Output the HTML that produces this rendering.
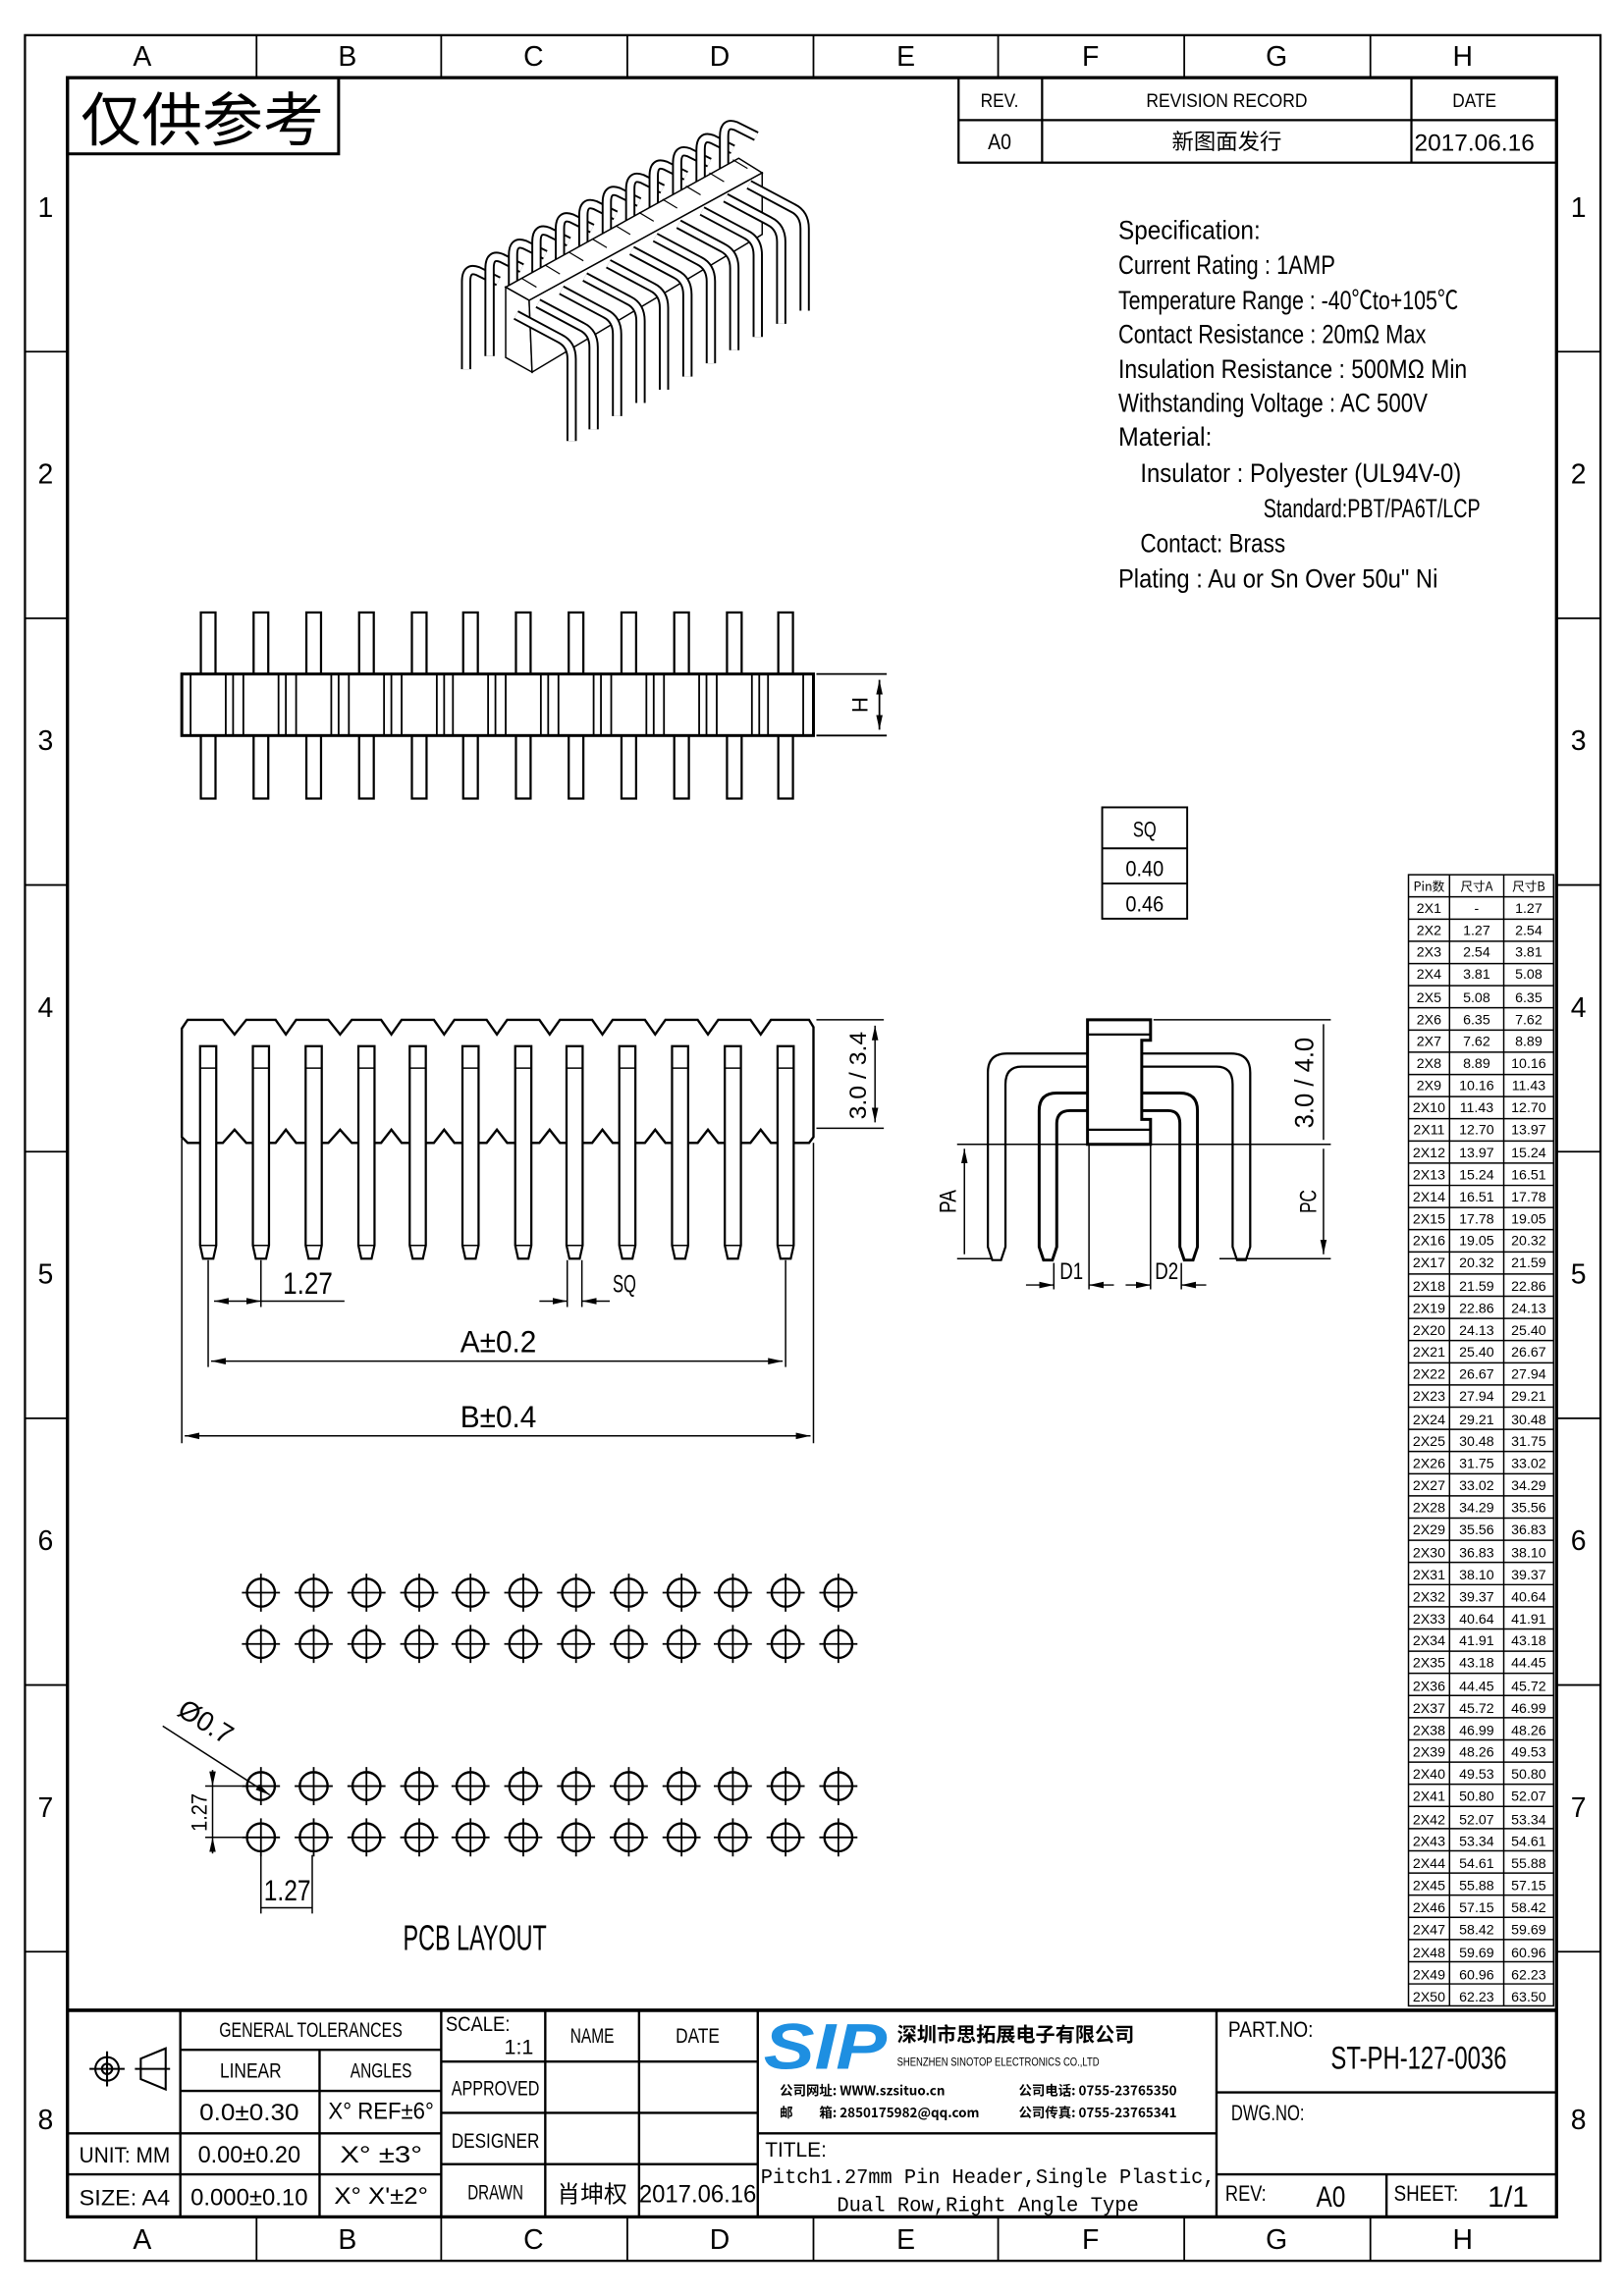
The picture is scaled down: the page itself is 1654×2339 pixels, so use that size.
<!DOCTYPE html>
<html><head><meta charset="utf-8"><style>
html,body{margin:0;padding:0;background:#fff}
svg{display:block}
text{font-family:"Liberation Sans Narrow","Liberation Sans","Noto Sans CJK SC",sans-serif;fill:#000}
.cj{font-family:"Noto Sans CJK SC","WenQuanYi Zen Hei",sans-serif}
.t{font-size:9.5px;text-anchor:middle}
</style></head><body>
<svg width="1654" height="2339" viewBox="0 0 1108 1567" xmlns="http://www.w3.org/2000/svg">
<defs>
<marker id="ar" viewBox="0 0 10 6" refX="10" refY="3" markerWidth="10" markerHeight="6" orient="auto-start-reverse" markerUnits="userSpaceOnUse"><path d="M0,0.8 L10,3 L0,5.2z" fill="#000"/></marker>
<g id="pcb"><circle cx="0" cy="0" r="9.5" fill="none" stroke="#000" stroke-width="1.6"/><path d="M-13,0H13M0,-13V13" stroke="#000" stroke-width="1.2"/></g>
<g id="fpin"><path d="M-5.5,0 V136 L-3.5,145 H3.5 L5.5,136 V0 Z" fill="#fff" stroke="#000" stroke-width="1.5"/><path d="M-5.5,15H5.5M-5.5,136H5.5" stroke="#000" stroke-width="1"/></g>
<g id="tpin"><rect x="-5" y="0" width="10" height="127" fill="#fff" stroke="#000" stroke-width="1.5"/></g>
<g id="rpin" fill="none" stroke-linejoin="round"><path d="M0,0 L30,16 Q38,20 38,30 V86" stroke="#000" stroke-width="7"/><path d="M0,0 L30,16 Q38,20 38,30 V86" stroke="#fff" stroke-width="4.4"/></g>
<g id="lpin" fill="none"><path d="M0,0 L-14,-7 Q-22,-10 -22,0 V60" stroke="#000" stroke-width="7"/><path d="M0,0 L-14,-7 Q-22,-10 -22,0 V60" stroke="#fff" stroke-width="4.4"/></g>
</defs>

<!-- frames -->
<rect x="17" y="24" width="1075" height="1519" fill="none" stroke="#000" stroke-width="1.5"/>
<rect x="46" y="53" width="1016" height="1460" fill="none" stroke="#000" stroke-width="2.2"/>
<g stroke="#000" stroke-width="1.2">
<path d="M175,24V53M301,24V53M428,24V53M555,24V53M681,24V53M808,24V53M935,24V53"/>
<path d="M175,1513V1543M301,1513V1543M428,1513V1543M555,1513V1543M681,1513V1543M808,1513V1543M935,1513V1543"/>
<path d="M17,240H46M17,422H46M17,604H46M17,786H46M17,968H46M17,1150H46M17,1332H46"/>
<path d="M1062,240H1092M1062,422H1092M1062,604H1092M1062,786H1092M1062,968H1092M1062,1150H1092M1062,1332H1092"/>
</g>
<g font-size="19" text-anchor="middle">
<text x="97" y="45">A</text><text x="237" y="45">B</text><text x="364" y="45">C</text><text x="491" y="45">D</text><text x="618" y="45">E</text><text x="744" y="45">F</text><text x="871" y="45">G</text><text x="998" y="45">H</text>
<text x="97" y="1535">A</text><text x="237" y="1535">B</text><text x="364" y="1535">C</text><text x="491" y="1535">D</text><text x="618" y="1535">E</text><text x="744" y="1535">F</text><text x="871" y="1535">G</text><text x="998" y="1535">H</text>
<text x="31" y="148">1</text><text x="31" y="330">2</text><text x="31" y="512">3</text><text x="31" y="694">4</text><text x="31" y="876">5</text><text x="31" y="1058">6</text><text x="31" y="1240">7</text><text x="31" y="1453">8</text>
<text x="1077" y="148">1</text><text x="1077" y="330">2</text><text x="1077" y="512">3</text><text x="1077" y="694">4</text><text x="1077" y="876">5</text><text x="1077" y="1058">6</text><text x="1077" y="1240">7</text><text x="1077" y="1453">8</text>
</g>

<!-- stamp -->
<rect x="46" y="53" width="185" height="52" fill="none" stroke="#000" stroke-width="2"/>
<text x="138" y="96" class="cj" font-size="40" text-anchor="middle" textLength="166" lengthAdjust="spacingAndGlyphs">仅供参考</text>

<!-- revision -->
<g fill="none" stroke="#000" stroke-width="1.5"><rect x="654" y="53" width="408" height="58"/><path d="M654,82H1062M711,53V111M963,53V111"/></g>
<g font-size="13" text-anchor="middle">
<text x="682" y="73" textLength="26" lengthAdjust="spacingAndGlyphs">REV.</text><text x="837" y="73" textLength="110" lengthAdjust="spacingAndGlyphs">REVISION RECORD</text><text x="1006" y="73" textLength="30" lengthAdjust="spacingAndGlyphs">DATE</text>
<text x="682" y="102" font-size="15" textLength="16" lengthAdjust="spacingAndGlyphs">A0</text><text x="837" y="102" class="cj" font-size="15">新图面发行</text><text x="1006" y="103" font-size="16" textLength="82" lengthAdjust="spacingAndGlyphs">2017.06.16</text>
</g>

<!-- spec -->
<g font-size="18">
<text x="763" y="163" textLength="97" lengthAdjust="spacingAndGlyphs">Specification:</text>
<text x="763" y="187" textLength="148" lengthAdjust="spacingAndGlyphs">Current Rating : 1AMP</text>
<text x="763" y="211" textLength="232" lengthAdjust="spacingAndGlyphs">Temperature Range : -40℃to+105℃</text>
<text x="763" y="234" textLength="210" lengthAdjust="spacingAndGlyphs">Contact Resistance : 20mΩ Max</text>
<text x="763" y="258" textLength="238" lengthAdjust="spacingAndGlyphs">Insulation Resistance : 500MΩ Min</text>
<text x="763" y="281" textLength="211" lengthAdjust="spacingAndGlyphs">Withstanding Voltage : AC 500V</text>
<text x="763" y="304" textLength="64" lengthAdjust="spacingAndGlyphs">Material:</text>
<text x="778" y="329" textLength="219" lengthAdjust="spacingAndGlyphs">Insulator : Polyester (UL94V-0)</text>
<text x="862" y="353" textLength="148" lengthAdjust="spacingAndGlyphs">Standard:PBT/PA6T/LCP</text>
<text x="778" y="377" textLength="99" lengthAdjust="spacingAndGlyphs">Contact: Brass</text>
<text x="763" y="401" textLength="218" lengthAdjust="spacingAndGlyphs">Plating : Au or Sn Over 50u" Ni</text>
</g>

<!-- 3D view -->
<g>
<use href="#lpin" x="340" y="192"/><use href="#lpin" x="356" y="183"/>
<use href="#lpin" x="372" y="174"/><use href="#lpin" x="388" y="165"/><use href="#lpin" x="404" y="156"/><use href="#lpin" x="420" y="147"/><use href="#lpin" x="436" y="138"/><use href="#lpin" x="452" y="129"/><use href="#lpin" x="468" y="120"/><use href="#lpin" x="484" y="111"/><use href="#lpin" x="500" y="102"/><use href="#lpin" x="516" y="93"/>
<polygon points="345,196 361,205 520,118 504,108" fill="#fff" stroke="#000" stroke-width="1"/>
<polygon points="345,196 361,205 363,254 345,244" fill="#fff" stroke="#000" stroke-width="1"/>
<polygon points="361,205 520,118 520,160 363,254" fill="#fff" stroke="#000" stroke-width="1"/>
<g stroke="#000" stroke-width="0.8" fill="none"><path d="M356,190 l10,6 M372,181 l10,6 M388,172 l10,6 M404,163 l10,6 M420,154 l10,6 M436,145 l10,6 M452,136 l10,6 M468,127 l10,6 M484,118 l10,6 M500,109 l10,6"/></g>
<use href="#rpin" x="352" y="215"/><use href="#rpin" x="367" y="207"/><use href="#rpin" x="383" y="198"/><use href="#rpin" x="399" y="189"/><use href="#rpin" x="415" y="180"/><use href="#rpin" x="431" y="171"/><use href="#rpin" x="447" y="162"/><use href="#rpin" x="463" y="153"/><use href="#rpin" x="479" y="144"/><use href="#rpin" x="495" y="135"/><use href="#rpin" x="511" y="126"/>
</g>

<!-- top view -->
<g>
<use href="#tpin" x="142" y="418"/><use href="#tpin" x="178" y="418"/><use href="#tpin" x="214" y="418"/><use href="#tpin" x="250" y="418"/><use href="#tpin" x="286" y="418"/><use href="#tpin" x="321" y="418"/><use href="#tpin" x="357" y="418"/><use href="#tpin" x="393" y="418"/><use href="#tpin" x="429" y="418"/><use href="#tpin" x="465" y="418"/><use href="#tpin" x="501" y="418"/><use href="#tpin" x="536" y="418"/>
<rect x="124" y="460" width="431" height="42" fill="#fff" stroke="#000" stroke-width="2"/>
<g stroke="#000" stroke-width="1.2">
<path d="M130,460V502M154,460V502M159,460V502M166,460V502M190,460V502M195,460V502M202,460V502M226,460V502M231,460V502M238,460V502M262,460V502M267,460V502M274,460V502M298,460V502M303,460V502M309,460V502M333,460V502M338,460V502M345,460V502M369,460V502M374,460V502M381,460V502M405,460V502M410,460V502M417,460V502M441,460V502M446,460V502M453,460V502M477,460V502M482,460V502M489,460V502M513,460V502M518,460V502M524,460V502M548,460V502"/>
<path d="M557,460H605M557,502H605"/>
<path d="M600,464V498" marker-start="url(#ar)" marker-end="url(#ar)"/>
</g>
<text x="592" y="481" font-size="15" text-anchor="middle" transform="rotate(-90 592 481)">H</text>
</g>

<!-- SQ table -->
<g fill="none" stroke="#000" stroke-width="1.3"><rect x="752" y="551" width="58" height="76"/><path d="M752,579H810M752,603H810"/></g>
<g font-size="15" text-anchor="middle"><text x="781" y="571" textLength="16" lengthAdjust="spacingAndGlyphs">SQ</text><text x="781" y="598" textLength="26" lengthAdjust="spacingAndGlyphs">0.40</text><text x="781" y="622" textLength="26" lengthAdjust="spacingAndGlyphs">0.46</text></g>

<!-- pin table -->
<g fill="none" stroke="#000" stroke-width="1"><rect x="961" y="597" width="99" height="772"/><path d="M989,597V1369M1026,597V1369"/>
<path d="M961,612.1H1060M961,627.3H1060M961,642.4H1060M961,657.6H1060M961,672.7H1060M961,687.8H1060M961,703H1060M961,718.1H1060M961,733.3H1060M961,748.4H1060M961,763.5H1060M961,778.7H1060M961,793.8H1060M961,809H1060M961,824.1H1060M961,839.2H1060M961,854.4H1060M961,869.5H1060M961,884.7H1060M961,899.8H1060M961,914.9H1060M961,930.1H1060M961,945.2H1060M961,960.4H1060M961,975.5H1060M961,990.6H1060M961,1005.8H1060M961,1020.9H1060M961,1036.1H1060M961,1051.2H1060M961,1066.3H1060M961,1081.5H1060M961,1096.6H1060M961,1111.8H1060M961,1126.9H1060M961,1142H1060M961,1157.2H1060M961,1172.3H1060M961,1187.5H1060M961,1202.6H1060M961,1217.7H1060M961,1232.9H1060M961,1248H1060M961,1263.2H1060M961,1278.3H1060M961,1293.4H1060M961,1308.6H1060M961,1323.7H1060M961,1338.9H1060M961,1354H1060"/></g>
<g class="t">
<text x="975" y="608" class="cj" font-size="8.5">Pin数</text><text x="1007.5" y="608" class="cj" font-size="8.5">尺寸A</text><text x="1043" y="608" class="cj" font-size="8.5">尺寸B</text>
<text x="975" y="623">2X1</text><text x="1007.5" y="623">-</text><text x="1043" y="623">1.27</text>
<text x="975" y="638">2X2</text><text x="1007.5" y="638">1.27</text><text x="1043" y="638">2.54</text>
<text x="975" y="653">2X3</text><text x="1007.5" y="653">2.54</text><text x="1043" y="653">3.81</text>
<text x="975" y="668">2X4</text><text x="1007.5" y="668">3.81</text><text x="1043" y="668">5.08</text>
<text x="975" y="684">2X5</text><text x="1007.5" y="684">5.08</text><text x="1043" y="684">6.35</text>
<text x="975" y="699">2X6</text><text x="1007.5" y="699">6.35</text><text x="1043" y="699">7.62</text>
<text x="975" y="714">2X7</text><text x="1007.5" y="714">7.62</text><text x="1043" y="714">8.89</text>
<text x="975" y="729">2X8</text><text x="1007.5" y="729">8.89</text><text x="1043" y="729">10.16</text>
<text x="975" y="744">2X9</text><text x="1007.5" y="744">10.16</text><text x="1043" y="744">11.43</text>
<text x="975" y="759">2X10</text><text x="1007.5" y="759">11.43</text><text x="1043" y="759">12.70</text>
<text x="975" y="774">2X11</text><text x="1007.5" y="774">12.70</text><text x="1043" y="774">13.97</text>
<text x="975" y="790">2X12</text><text x="1007.5" y="790">13.97</text><text x="1043" y="790">15.24</text>
<text x="975" y="805">2X13</text><text x="1007.5" y="805">15.24</text><text x="1043" y="805">16.51</text>
<text x="975" y="820">2X14</text><text x="1007.5" y="820">16.51</text><text x="1043" y="820">17.78</text>
<text x="975" y="835">2X15</text><text x="1007.5" y="835">17.78</text><text x="1043" y="835">19.05</text>
<text x="975" y="850">2X16</text><text x="1007.5" y="850">19.05</text><text x="1043" y="850">20.32</text>
<text x="975" y="865">2X17</text><text x="1007.5" y="865">20.32</text><text x="1043" y="865">21.59</text>
<text x="975" y="881">2X18</text><text x="1007.5" y="881">21.59</text><text x="1043" y="881">22.86</text>
<text x="975" y="896">2X19</text><text x="1007.5" y="896">22.86</text><text x="1043" y="896">24.13</text>
<text x="975" y="911">2X20</text><text x="1007.5" y="911">24.13</text><text x="1043" y="911">25.40</text>
<text x="975" y="926">2X21</text><text x="1007.5" y="926">25.40</text><text x="1043" y="926">26.67</text>
<text x="975" y="941">2X22</text><text x="1007.5" y="941">26.67</text><text x="1043" y="941">27.94</text>
<text x="975" y="956">2X23</text><text x="1007.5" y="956">27.94</text><text x="1043" y="956">29.21</text>
<text x="975" y="972">2X24</text><text x="1007.5" y="972">29.21</text><text x="1043" y="972">30.48</text>
<text x="975" y="987">2X25</text><text x="1007.5" y="987">30.48</text><text x="1043" y="987">31.75</text>
<text x="975" y="1002">2X26</text><text x="1007.5" y="1002">31.75</text><text x="1043" y="1002">33.02</text>
<text x="975" y="1017">2X27</text><text x="1007.5" y="1017">33.02</text><text x="1043" y="1017">34.29</text>
<text x="975" y="1032">2X28</text><text x="1007.5" y="1032">34.29</text><text x="1043" y="1032">35.56</text>
<text x="975" y="1047">2X29</text><text x="1007.5" y="1047">35.56</text><text x="1043" y="1047">36.83</text>
<text x="975" y="1063">2X30</text><text x="1007.5" y="1063">36.83</text><text x="1043" y="1063">38.10</text>
<text x="975" y="1078">2X31</text><text x="1007.5" y="1078">38.10</text><text x="1043" y="1078">39.37</text>
<text x="975" y="1093">2X32</text><text x="1007.5" y="1093">39.37</text><text x="1043" y="1093">40.64</text>
<text x="975" y="1108">2X33</text><text x="1007.5" y="1108">40.64</text><text x="1043" y="1108">41.91</text>
<text x="975" y="1123">2X34</text><text x="1007.5" y="1123">41.91</text><text x="1043" y="1123">43.18</text>
<text x="975" y="1138">2X35</text><text x="1007.5" y="1138">43.18</text><text x="1043" y="1138">44.45</text>
<text x="975" y="1154">2X36</text><text x="1007.5" y="1154">44.45</text><text x="1043" y="1154">45.72</text>
<text x="975" y="1169">2X37</text><text x="1007.5" y="1169">45.72</text><text x="1043" y="1169">46.99</text>
<text x="975" y="1184">2X38</text><text x="1007.5" y="1184">46.99</text><text x="1043" y="1184">48.26</text>
<text x="975" y="1199">2X39</text><text x="1007.5" y="1199">48.26</text><text x="1043" y="1199">49.53</text>
<text x="975" y="1214">2X40</text><text x="1007.5" y="1214">49.53</text><text x="1043" y="1214">50.80</text>
<text x="975" y="1229">2X41</text><text x="1007.5" y="1229">50.80</text><text x="1043" y="1229">52.07</text>
<text x="975" y="1245">2X42</text><text x="1007.5" y="1245">52.07</text><text x="1043" y="1245">53.34</text>
<text x="975" y="1260">2X43</text><text x="1007.5" y="1260">53.34</text><text x="1043" y="1260">54.61</text>
<text x="975" y="1275">2X44</text><text x="1007.5" y="1275">54.61</text><text x="1043" y="1275">55.88</text>
<text x="975" y="1290">2X45</text><text x="1007.5" y="1290">55.88</text><text x="1043" y="1290">57.15</text>
<text x="975" y="1305">2X46</text><text x="1007.5" y="1305">57.15</text><text x="1043" y="1305">58.42</text>
<text x="975" y="1320">2X47</text><text x="1007.5" y="1320">58.42</text><text x="1043" y="1320">59.69</text>
<text x="975" y="1336">2X48</text><text x="1007.5" y="1336">59.69</text><text x="1043" y="1336">60.96</text>
<text x="975" y="1351">2X49</text><text x="1007.5" y="1351">60.96</text><text x="1043" y="1351">62.23</text>
<text x="975" y="1366">2X50</text><text x="1007.5" y="1366">62.23</text><text x="1043" y="1366">63.50</text>
</g>

<!-- front view -->
<g>
<path d="M124,702 L128,696 H152 L160,706 L168,696 H188 L195,706 L202,696 H224 L232,706 L240,696 H260 L267,706 L274,696 H296 L303,706 L310,696 H332 L339,706 L346,696 H368 L375,706 L382,696 H404 L411,706 L418,696 H440 L447,706 L454,696 H476 L483,706 L490,696 H512 L519,706 L526,696 H552 L555,701 V776 L552,780 H526 L519,771 L512,780 H490 L483,771 L476,780 H454 L447,771 L440,780 H418 L411,771 L404,780 H382 L375,771 L368,780 H346 L339,771 L332,780 H310 L303,771 L296,780 H274 L267,771 L260,780 H240 L232,771 L224,780 H202 L195,771 L188,780 H168 L160,771 L152,780 H128 L124,776 Z" fill="none" stroke="#000" stroke-width="1.6"/>
<use href="#fpin" x="142" y="714"/><use href="#fpin" x="178" y="714"/><use href="#fpin" x="214" y="714"/><use href="#fpin" x="250" y="714"/><use href="#fpin" x="285" y="714"/><use href="#fpin" x="321" y="714"/><use href="#fpin" x="357" y="714"/><use href="#fpin" x="392" y="714"/><use href="#fpin" x="428" y="714"/><use href="#fpin" x="464" y="714"/><use href="#fpin" x="500" y="714"/><use href="#fpin" x="536" y="714"/>
<g stroke="#000" stroke-width="1" fill="none">
<path d="M124,776V985M555,780V985M142,860V933M178,860V892M536,860V933M387,860V892M397,860V892"/>
<path d="M557,696H603M557,770H603"/>
<path d="M146,888H178" marker-start="url(#ar)" marker-end="url(#ar)"/><path d="M178,888H235"/>
<path d="M368,888H387" marker-end="url(#ar)"/><path d="M397,888H416" marker-start="url(#ar)"/>
<path d="M144,929H534" marker-start="url(#ar)" marker-end="url(#ar)"/>
<path d="M126,980H553" marker-start="url(#ar)" marker-end="url(#ar)"/>
</g>
<path d="M597,700V766" stroke="#000" marker-start="url(#ar)" marker-end="url(#ar)"/>
<g font-size="21" text-anchor="middle">
<text x="210" y="883" textLength="34" lengthAdjust="spacingAndGlyphs">1.27</text><text x="426" y="882" font-size="17" textLength="16" lengthAdjust="spacingAndGlyphs">SQ</text>
<text x="340" y="923" textLength="52" lengthAdjust="spacingAndGlyphs">A±0.2</text><text x="340" y="974" textLength="52" lengthAdjust="spacingAndGlyphs">B±0.4</text>
<text x="591" y="734" font-size="16" transform="rotate(-90 591 734)" textLength="60" lengthAdjust="spacingAndGlyphs">3.0 / 3.4</text>
</g>
</g>

<!-- side view -->
<g fill="none" stroke="#000">
<path d="M743,719 H687 Q674,719 674,732 V851 L677,860 H683 L686,851 V740 Q686,728 697,728 H743" fill="#fff" stroke-width="1.5"/>
<path d="M743,746 H721 Q709,746 709,758 V851 L712,860 H718 L721,851 V767 Q721,758 730,758 H743" fill="#fff" stroke-width="2"/>
<path d="M779,719 H840 Q853,719 853,732 V851 L850,860 H844 L841,851 V740 Q841,728 830,728 H779" fill="#fff" stroke-width="1.5"/>
<path d="M779,746 H805 Q817,746 817,758 V851 L814,860 H808 L805,851 V767 Q805,758 797,758 H779" fill="#fff" stroke-width="2"/>
<path d="M742,696 H785 V710 H779 V764 H785 V781 H742 Z" fill="#fff" stroke-width="2"/>
<path d="M742,706H785M742,771H785" stroke-width="1.5"/>
<path d="M653,781H908M653,859H677M832,859H908M787,696H908" stroke-width="1"/>
<path d="M719,862V880M743,781V880M785,781V880M806,862V880" stroke-width="1"/>
<path d="M658,784V856M903,699V778M903,784V856" stroke-width="1" marker-start="url(#ar)" marker-end="url(#ar)"/>
<path d="M700,877H719" stroke-width="1" marker-end="url(#ar)"/><path d="M743,877H760" stroke-width="1" marker-start="url(#ar)"/>
<path d="M768,877H785" stroke-width="1" marker-end="url(#ar)"/><path d="M806,877H823" stroke-width="1" marker-start="url(#ar)"/>
</g>
<g font-size="16" text-anchor="middle">
<text x="652" y="820" transform="rotate(-90 652 820)" textLength="16" lengthAdjust="spacingAndGlyphs">PA</text>
<text x="898" y="820" transform="rotate(-90 898 820)" textLength="16" lengthAdjust="spacingAndGlyphs">PC</text>
<text x="896" y="739" font-size="18" transform="rotate(-90 896 739)" textLength="62" lengthAdjust="spacingAndGlyphs">3.0 / 4.0</text>
<text x="731" y="873" textLength="16" lengthAdjust="spacingAndGlyphs">D1</text><text x="796" y="873" textLength="16" lengthAdjust="spacingAndGlyphs">D2</text>
</g>

<!-- PCB layout -->
<g>
<use href="#pcb" x="178" y="1087"/><use href="#pcb" x="214" y="1087"/><use href="#pcb" x="250" y="1087"/><use href="#pcb" x="286" y="1087"/><use href="#pcb" x="321" y="1087"/><use href="#pcb" x="357" y="1087"/><use href="#pcb" x="393" y="1087"/><use href="#pcb" x="429" y="1087"/><use href="#pcb" x="465" y="1087"/><use href="#pcb" x="500" y="1087"/><use href="#pcb" x="536" y="1087"/><use href="#pcb" x="572" y="1087"/>
<use href="#pcb" x="178" y="1122"/><use href="#pcb" x="214" y="1122"/><use href="#pcb" x="250" y="1122"/><use href="#pcb" x="286" y="1122"/><use href="#pcb" x="321" y="1122"/><use href="#pcb" x="357" y="1122"/><use href="#pcb" x="393" y="1122"/><use href="#pcb" x="429" y="1122"/><use href="#pcb" x="465" y="1122"/><use href="#pcb" x="500" y="1122"/><use href="#pcb" x="536" y="1122"/><use href="#pcb" x="572" y="1122"/>
<use href="#pcb" x="178" y="1219"/><use href="#pcb" x="214" y="1219"/><use href="#pcb" x="250" y="1219"/><use href="#pcb" x="286" y="1219"/><use href="#pcb" x="321" y="1219"/><use href="#pcb" x="357" y="1219"/><use href="#pcb" x="393" y="1219"/><use href="#pcb" x="429" y="1219"/><use href="#pcb" x="465" y="1219"/><use href="#pcb" x="500" y="1219"/><use href="#pcb" x="536" y="1219"/><use href="#pcb" x="572" y="1219"/>
<use href="#pcb" x="178" y="1254"/><use href="#pcb" x="214" y="1254"/><use href="#pcb" x="250" y="1254"/><use href="#pcb" x="286" y="1254"/><use href="#pcb" x="321" y="1254"/><use href="#pcb" x="357" y="1254"/><use href="#pcb" x="393" y="1254"/><use href="#pcb" x="429" y="1254"/><use href="#pcb" x="465" y="1254"/><use href="#pcb" x="500" y="1254"/><use href="#pcb" x="536" y="1254"/><use href="#pcb" x="572" y="1254"/>
<g stroke="#000" stroke-width="1" fill="none">
<path d="M111,1178 L184,1225" marker-end="url(#ar)"/>
<path d="M140,1219H165M140,1254H165"/>
<path d="M145,1208V1219" marker-end="url(#ar)"/><path d="M145,1265V1254" marker-end="url(#ar)"/><path d="M145,1219V1254"/>
<path d="M178,1266V1306M213,1266V1306M178,1302H213"/>
</g>
<text x="120" y="1170" font-size="19" transform="rotate(32 120 1170)" textLength="40" lengthAdjust="spacingAndGlyphs">Ø0.7</text>
<text x="141" y="1237" font-size="15" text-anchor="middle" transform="rotate(-90 141 1237)" textLength="26" lengthAdjust="spacingAndGlyphs">1.27</text>
<text x="196" y="1297" font-size="20" text-anchor="middle" textLength="32" lengthAdjust="spacingAndGlyphs">1.27</text>
<text x="324" y="1331" font-size="24" text-anchor="middle" textLength="98" lengthAdjust="spacingAndGlyphs">PCB LAYOUT</text>
</g>

<!-- title block -->
<g fill="none" stroke="#000" stroke-width="1.6">
<path d="M46,1372H1062" stroke-width="2.4"/>
<path d="M123,1372V1513M301,1372V1513M218,1399V1513M123,1399H301M123,1427H301M46,1456H301M46,1484H301"/>
<path d="M372,1372V1513M436,1372V1513M517,1372V1513M301,1407H517M301,1442H517M301,1477H517"/>
<path d="M517,1456H830M830,1372V1513M830,1428H1062M830,1484H1062M946,1484V1513"/>
</g>
<g fill="none" stroke="#000" stroke-width="1.4">
<circle cx="73" cy="1412" r="8"/><circle cx="73" cy="1412" r="3.5"/><path d="M61,1412H85M73,1400V1424"/>
<path d="M92,1412H116M96,1405L113,1398V1426L96,1419Z"/>
</g>
<g font-size="14" text-anchor="middle">
<text x="212" y="1390" textLength="125" lengthAdjust="spacingAndGlyphs">GENERAL TOLERANCES</text>
<text x="171" y="1418" textLength="42" lengthAdjust="spacingAndGlyphs">LINEAR</text><text x="260" y="1418" textLength="42" lengthAdjust="spacingAndGlyphs">ANGLES</text>
<text x="170" y="1447" font-size="16" textLength="68" lengthAdjust="spacingAndGlyphs">0.0±0.30</text><text x="260" y="1446" font-size="16" textLength="72" lengthAdjust="spacingAndGlyphs">X° REF±6°</text>
<text x="85" y="1476" font-size="15" textLength="62" lengthAdjust="spacingAndGlyphs">UNIT: MM</text><text x="170" y="1476" font-size="16" textLength="70" lengthAdjust="spacingAndGlyphs">0.00±0.20</text><text x="260" y="1476" font-size="16" textLength="56" lengthAdjust="spacingAndGlyphs">X° ±3°</text>
<text x="85" y="1505" font-size="15" textLength="62" lengthAdjust="spacingAndGlyphs">SIZE: A4</text><text x="170" y="1505" font-size="16" textLength="80" lengthAdjust="spacingAndGlyphs">0.000±0.10</text><text x="260" y="1504" font-size="16" textLength="64" lengthAdjust="spacingAndGlyphs">X° X'±2°</text>
<text x="326" y="1386" textLength="44" lengthAdjust="spacingAndGlyphs">SCALE:</text><text x="354" y="1402" textLength="20" lengthAdjust="spacingAndGlyphs">1:1</text>
<text x="404" y="1394" textLength="30" lengthAdjust="spacingAndGlyphs">NAME</text><text x="476" y="1394" textLength="30" lengthAdjust="spacingAndGlyphs">DATE</text>
<text x="338" y="1430" textLength="60" lengthAdjust="spacingAndGlyphs">APPROVED</text><text x="338" y="1466" textLength="60" lengthAdjust="spacingAndGlyphs">DESIGNER</text><text x="338" y="1501" textLength="38" lengthAdjust="spacingAndGlyphs">DRAWN</text>
<text x="404" y="1503" class="cj" font-size="16">肖坤权</text><text x="476" y="1503" font-size="17" textLength="80" lengthAdjust="spacingAndGlyphs">2017.06.16</text>
</g>
<!-- logo -->
<g>
<text x="521" y="1412" font-size="44" font-weight="bold" font-style="italic" fill="#1e8fe1" style="fill:#1e8fe1" textLength="84" lengthAdjust="spacingAndGlyphs">SIP</text>
<text x="612" y="1393" class="cj" font-size="13.5" font-weight="bold">深圳市思拓展电子有限公司</text>
<text x="612" y="1410" font-size="8" textLength="138" lengthAdjust="spacingAndGlyphs">SHENZHEN SINOTOP ELECTRONICS CO.,LTD</text>
<text x="532" y="1430" class="cj" font-size="9" font-weight="bold">公司网址: WWW.szsituo.cn</text>
<text x="532" y="1445" class="cj" font-size="9" font-weight="bold">邮　　箱: 2850175982@qq.com</text>
<text x="695" y="1430" class="cj" font-size="9" font-weight="bold">公司电话: 0755-23765350</text>
<text x="695" y="1445" class="cj" font-size="9" font-weight="bold">公司传真: 0755-23765341</text>
</g>
<text x="522" y="1472" font-size="14" textLength="42" lengthAdjust="spacingAndGlyphs">TITLE:</text>
<text x="674" y="1490" font-size="14.5" text-anchor="middle" textLength="310" lengthAdjust="spacingAndGlyphs" style="font-family:'Liberation Mono',monospace">Pitch1.27mm Pin Header,Single Plastic,</text>
<text x="674" y="1509" font-size="14.5" text-anchor="middle" textLength="206" lengthAdjust="spacingAndGlyphs" style="font-family:'Liberation Mono',monospace">Dual Row,Right Angle Type</text>
<text x="838" y="1390" font-size="15" textLength="58" lengthAdjust="spacingAndGlyphs">PART.NO:</text>
<text x="968" y="1412" font-size="22" text-anchor="middle" textLength="120" lengthAdjust="spacingAndGlyphs">ST-PH-127-0036</text>
<text x="840" y="1447" font-size="15" textLength="50" lengthAdjust="spacingAndGlyphs">DWG.NO:</text>
<text x="836" y="1502" font-size="15" textLength="28" lengthAdjust="spacingAndGlyphs">REV:</text><text x="908" y="1506" font-size="20" text-anchor="middle" textLength="20" lengthAdjust="spacingAndGlyphs">A0</text>
<text x="951" y="1502" font-size="15" textLength="44" lengthAdjust="spacingAndGlyphs">SHEET:</text><text x="1029" y="1506" font-size="20" text-anchor="middle" textLength="28" lengthAdjust="spacingAndGlyphs">1/1</text>
</svg>
</body></html>
